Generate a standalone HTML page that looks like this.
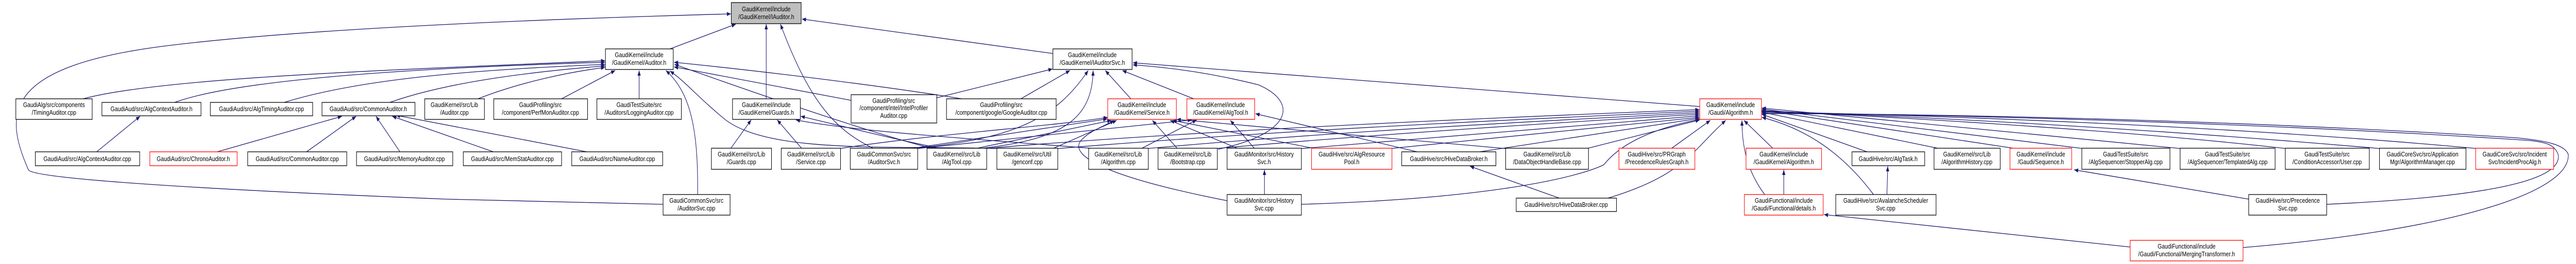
<!DOCTYPE html>
<html><head><meta charset="utf-8"><style>
html,body{margin:0;padding:0;background:#fff;width:100%;height:100%;overflow:hidden;}
svg{display:block;position:absolute;left:0;top:0;width:100vw;height:100vh;}
text{font-family:"Liberation Sans",sans-serif;font-size:13.3px;fill:#000;text-anchor:middle;}
.b{fill:#fff;stroke:#000;stroke-width:1.3;}
.r{fill:#fff;stroke:#ff0000;stroke-width:1.3;}
.g{fill:#bfbfbf;stroke:#000;stroke-width:1.3;}
.e{fill:none;stroke:#191970;stroke-width:1.3;marker-end:url(#a);}
</style></head><body>
<svg viewBox="0 0 6344 513" preserveAspectRatio="none" xmlns="http://www.w3.org/2000/svg">
<defs><marker id="a" markerUnits="userSpaceOnUse" markerWidth="11" markerHeight="8" refX="10" refY="4" orient="auto"><path d="M0,0 L10,4 L0,8 z" fill="#191970"/></marker></defs>

<path class="e" d="M1650,95 L1812,47"/>
<path class="e" d="M1887,192 L1887,47"/>
<path class="e" d="M2150,288 C2050,250 1990,190 1922,47"/>
<path class="e" d="M2593,104 L1975,37"/>
<path class="e" d="M1633,397 L1100,387 C400,365 80,345 70,330 C8,220 10,130 400,90 C700,60 1200,40 1800,27"/>
<path class="e" d="M205,192 C400,150 1000,135 1490,118"/>
<path class="e" d="M430,199 C600,150 1100,130 1490,121"/>
<path class="e" d="M700,199 C900,150 1200,135 1490,125"/>
<path class="e" d="M960,199 C1100,160 1300,140 1490,128"/>
<path class="e" d="M1177,192 C1280,160 1400,140 1490,131"/>
<path class="e" d="M1383,192 L1515,137"/>
<path class="e" d="M1574,192 L1574,137"/>
<path class="e" d="M1718,378 C1720,250 1700,180 1640,137"/>
<path class="e" d="M2096,195 L1660,130"/>
<path class="e" d="M2368,192 C2200,170 1900,140 1660,121"/>
<path class="e" d="M2300,289 C2200,270 2000,220 1661,125"/>
<path class="e" d="M2470,289 C2200,282 1900,300 1787,233 C1720,190 1690,160 1650,138"/>
<path class="e" d="M1800,288 L1850,233"/>
<path class="e" d="M1974,288 L1914,233"/>
<path class="e" d="M2320,289 C2200,270 2100,250 1972,226"/>
<path class="e" d="M2700,289 C2400,270 2100,255 1960,233"/>
<path class="e" d="M535,295 L842,226"/>
<path class="e" d="M755,295 L877,226"/>
<path class="e" d="M985,295 L926,226"/>
<path class="e" d="M1215,295 L966,226"/>
<path class="e" d="M1445,295 L975,224"/>
<path class="e" d="M238,295 L345,226"/>
<path class="e" d="M2307,190 L2592,134"/>
<path class="e" d="M2514,192 L2635,137"/>
<path class="e" d="M2250,288 C2500,270 2600,230 2680,137"/>
<path class="e" d="M2420,288 C2620,270 2690,230 2692,137"/>
<path class="e" d="M2785,192 L2722,137"/>
<path class="e" d="M2940,192 L2764,137"/>
<path class="e" d="M3000,290 C3180,260 3200,200 3100,165 C3000,145 2900,132 2790,126"/>
<path class="e" d="M4186,207 L2790,122"/>
<path class="e" d="M2240,289 L2727,231"/>
<path class="e" d="M2400,289 L2737,234"/>
<path class="e" d="M2592,289 L2750,234"/>
<path class="e" d="M2065,289 C2300,260 2600,245 2728,228"/>
<path class="e" d="M2900,289 L2838,234"/>
<path class="e" d="M3050,289 L2882,234"/>
<path class="e" d="M3240,289 L2888,234"/>
<path class="e" d="M3713,289 L2898,232"/>
<path class="e" d="M3022,390 C2700,340 2640,300 2660,275 C2680,255 2720,245 2744,234"/>
<path class="e" d="M2255,289 L2935,233"/>
<path class="e" d="M2810,289 L2947,233"/>
<path class="e" d="M3090,289 L3030,234"/>
<path class="e" d="M3490,295 L3092,221"/>
<path class="e" d="M2420,289 C3000,250 3800,225 4185,213"/>
<path class="e" d="M2600,289 C3200,250 3800,230 4185,216"/>
<path class="e" d="M2820,289 C3300,255 3800,235 4185,219"/>
<path class="e" d="M2990,289 C3400,260 3900,235 4185,222"/>
<path class="e" d="M3200,289 C3600,260 3950,240 4185,225"/>
<path class="e" d="M3420,289 C3700,265 3950,245 4185,228"/>
<path class="e" d="M3644,295 L4185,230"/>
<path class="e" d="M3906,289 L4186,233"/>
<path class="e" d="M4117,288 L4212,234"/>
<path class="e" d="M3205,397 C3700,385 3900,340 3950,320 C4000,270 4100,245 4186,232"/>
<path class="e" d="M3960,385 C4150,340 4170,290 4250,234"/>
<path class="e" d="M4367,289 L4295,234"/>
<path class="e" d="M4346,378 C4300,330 4290,280 4290,234"/>
<path class="e" d="M4598,295 L4339,222"/>
<path class="e" d="M4614,378 C4540,300 4450,250 4339,228"/>
<path class="e" d="M4772,288 L4339,218"/>
<path class="e" d="M4958,288 L4339,214"/>
<path class="e" d="M5134,289 L4339,212"/>
<path class="e" d="M5375,289 L4339,210"/>
<path class="e" d="M5634,289 C5200,250 4600,225 4339,215"/>
<path class="e" d="M5866,289 C5300,250 4700,225 4339,216"/>
<path class="e" d="M6105,289 C5500,245 4800,225 4339,217"/>
<path class="e" d="M5730,397 C6200,380 6310,340 6300,300 C6290,280 6270,277 6230,273 C5500,235 4700,222 4339,219"/>
<path class="e" d="M5524,481 C6000,450 6330,380 6325,300 C6315,278 6250,272 6200,268 C5500,232 4700,220 4339,221"/>
<path class="e" d="M3840,385 L3620,323"/>
<path class="e" d="M3114,378 L3114,330"/>
<path class="e" d="M4393,378 L4393,330"/>
<path class="e" d="M4647,378 L4649,323"/>
<path class="e" d="M5538,387 L5108,330"/>
<path class="e" d="M5246,480 L4492,417"/>

<rect class="g" x="1801" y="5" width="172" height="41"/>
<text x="1887" y="22">GaudiKernel/include</text><text x="1887" y="37">/GaudiKernel/IAuditor.h</text>
<rect class="b" x="1491" y="95" width="167" height="40"/>
<text x="1574" y="111">GaudiKernel/include</text><text x="1574" y="126">/GaudiKernel/Auditor.h</text>
<rect class="b" x="2593" y="95" width="195" height="40"/>
<text x="2690" y="111">GaudiKernel/include</text><text x="2690" y="126">/GaudiKernel/IAuditorSvc.h</text>

<rect class="b" x="39" y="192" width="188" height="40"/>
<text x="133" y="208">GaudiAlg/src/components</text><text x="133" y="223">/TimingAuditor.cpp</text>
<rect class="b" x="251" y="199" width="244" height="26"/><text x="373" y="216">GaudiAud/src/AlgContextAuditor.h</text>
<rect class="b" x="518" y="199" width="252" height="26"/><text x="644" y="216">GaudiAud/src/AlgTimingAuditor.cpp</text>
<rect class="b" x="793" y="199" width="229" height="26"/><text x="907" y="216">GaudiAud/src/CommonAuditor.h</text>
<rect class="b" x="1046" y="192" width="147" height="40"/>
<text x="1119" y="208">GaudiKernel/src/Lib</text><text x="1119" y="223">/Auditor.cpp</text>
<rect class="b" x="1216" y="192" width="231" height="40"/>
<text x="1331" y="208">GaudiProfiling/src</text><text x="1331" y="223">/component/PerfMonAuditor.cpp</text>
<rect class="b" x="1470" y="192" width="208" height="40"/>
<text x="1574" y="208">GaudiTestSuite/src</text><text x="1574" y="223">/Auditors/LoggingAuditor.cpp</text>
<rect class="b" x="1804" y="192" width="167" height="40"/>
<text x="1887" y="208">GaudiKernel/include</text><text x="1887" y="223">/GaudiKernel/Guards.h</text>
<rect class="b" x="2096" y="184" width="211" height="55"/>
<text x="2201" y="200">GaudiProfiling/src</text><text x="2201" y="214">/component/intel/IntelProfiler</text><text x="2201" y="229">Auditor.cpp</text>
<rect class="b" x="2331" y="192" width="270" height="40"/>
<text x="2466" y="208">GaudiProfiling/src</text><text x="2466" y="223">/component/google/GoogleAuditor.cpp</text>
<rect class="r" x="2728" y="192" width="169" height="40"/>
<text x="2812" y="208">GaudiKernel/include</text><text x="2812" y="223">/GaudiKernel/Service.h</text>
<rect class="r" x="2923" y="192" width="167" height="40"/>
<text x="3006" y="208">GaudiKernel/include</text><text x="3006" y="223">/GaudiKernel/AlgTool.h</text>
<rect class="r" x="4186" y="192" width="152" height="40"/>
<text x="4262" y="208">GaudiKernel/include</text><text x="4262" y="223">/Gaudi/Algorithm.h</text>

<rect class="b" x="87" y="295" width="257" height="27"/><text x="215" y="313">GaudiAud/src/AlgContextAuditor.cpp</text>
<rect class="r" x="369" y="295" width="215" height="27"/><text x="476" y="313">GaudiAud/src/ChronoAuditor.h</text>
<rect class="b" x="610" y="295" width="244" height="27"/><text x="732" y="313">GaudiAud/src/CommonAuditor.cpp</text>
<rect class="b" x="878" y="295" width="237" height="27"/><text x="996" y="313">GaudiAud/src/MemoryAuditor.cpp</text>
<rect class="b" x="1141" y="295" width="242" height="27"/><text x="1262" y="313">GaudiAud/src/MemStatAuditor.cpp</text>
<rect class="b" x="1408" y="295" width="224" height="27"/><text x="1520" y="313">GaudiAud/src/NameAuditor.cpp</text>
<rect class="b" x="3452" y="295" width="232" height="27"/><text x="3568" y="313">GaudiHive/src/HiveDataBroker.h</text>
<rect class="b" x="4561" y="295" width="179" height="27"/><text x="4650" y="313">GaudiHive/src/AlgTask.h</text>

<rect class="b" x="1752" y="288" width="148" height="41"/><text x="1826" y="304">GaudiKernel/src/Lib</text><text x="1826" y="319">/Guards.cpp</text>
<rect class="b" x="1924" y="288" width="146" height="41"/><text x="1997" y="304">GaudiKernel/src/Lib</text><text x="1997" y="319">/Service.cpp</text>
<rect class="b" x="2094" y="288" width="166" height="41"/><text x="2177" y="304">GaudiCommonSvc/src</text><text x="2177" y="319">/AuditorSvc.h</text>
<rect class="b" x="2283" y="288" width="147" height="41"/><text x="2356" y="304">GaudiKernel/src/Lib</text><text x="2356" y="319">/AlgTool.cpp</text>
<rect class="b" x="2455" y="288" width="150" height="41"/><text x="2530" y="304">GaudiKernel/src/Util</text><text x="2530" y="319">/genconf.cpp</text>
<rect class="b" x="2681" y="288" width="147" height="41"/><text x="2754" y="304">GaudiKernel/src/Lib</text><text x="2754" y="319">/Algorithm.cpp</text>
<rect class="b" x="2852" y="288" width="146" height="41"/><text x="2925" y="304">GaudiKernel/src/Lib</text><text x="2925" y="319">/Bootstrap.cpp</text>
<rect class="b" x="3022" y="288" width="183" height="41"/><text x="3113" y="304">GaudiMonitor/src/History</text><text x="3113" y="319">Svc.h</text>
<rect class="r" x="3230" y="288" width="198" height="41"/><text x="3329" y="304">GaudiHive/src/AlgResource</text><text x="3329" y="319">Pool.h</text>
<rect class="b" x="3708" y="288" width="204" height="41"/><text x="3810" y="304">GaudiKernel/src/Lib</text><text x="3810" y="319">/DataObjectHandleBase.cpp</text>
<rect class="r" x="3987" y="288" width="187" height="41"/><text x="4080" y="304">GaudiHive/src/PRGraph</text><text x="4080" y="319">/PrecedenceRulesGraph.h</text>
<rect class="r" x="4300" y="288" width="186" height="41"/><text x="4393" y="304">GaudiKernel/include</text><text x="4393" y="319">/GaudiKernel/Algorithm.h</text>
<rect class="b" x="4763" y="288" width="163" height="41"/><text x="4844" y="304">GaudiKernel/src/Lib</text><text x="4844" y="319">/AlgorithmHistory.cpp</text>
<rect class="r" x="4950" y="288" width="152" height="41"/><text x="5026" y="304">GaudiKernel/include</text><text x="5026" y="319">/Gaudi/Sequence.h</text>
<rect class="b" x="5127" y="288" width="217" height="41"/><text x="5235" y="304">GaudiTestSuite/src</text><text x="5235" y="319">/AlgSequencer/StopperAlg.cpp</text>
<rect class="b" x="5369" y="288" width="234" height="41"/><text x="5486" y="304">GaudiTestSuite/src</text><text x="5486" y="319">/AlgSequencer/TemplatedAlg.cpp</text>
<rect class="b" x="5628" y="288" width="207" height="41"/><text x="5731" y="304">GaudiTestSuite/src</text><text x="5731" y="319">/ConditionAccessor/User.cpp</text>
<rect class="b" x="5860" y="288" width="213" height="41"/><text x="5966" y="304">GaudiCoreSvc/src/Application</text><text x="5966" y="319">Mgr/AlgorithmManager.cpp</text>
<rect class="r" x="6097" y="288" width="192" height="41"/><text x="6193" y="304">GaudiCoreSvc/src/Incident</text><text x="6193" y="319">Svc/IncidentProcAlg.h</text>

<rect class="b" x="1633" y="378" width="165" height="40"/><text x="1715" y="394">GaudiCommonSvc/src</text><text x="1715" y="409">/AuditorSvc.cpp</text>
<rect class="b" x="3022" y="378" width="183" height="40"/><text x="3113" y="394">GaudiMonitor/src/History</text><text x="3113" y="409">Svc.cpp</text>
<rect class="b" x="3734" y="385" width="247" height="26"/><text x="3857" y="402">GaudiHive/src/HiveDataBroker.cpp</text>
<rect class="r" x="4296" y="378" width="194" height="40"/><text x="4393" y="394">GaudiFunctional/include</text><text x="4393" y="409">/Gaudi/Functional/details.h</text>
<rect class="b" x="4521" y="378" width="247" height="40"/><text x="4644" y="394">GaudiHive/src/AvalancheScheduler</text><text x="4644" y="409">Svc.cpp</text>
<rect class="b" x="5538" y="378" width="192" height="40"/><text x="5634" y="394">GaudiHive/src/Precedence</text><text x="5634" y="409">Svc.cpp</text>
<rect class="r" x="5246" y="467" width="278" height="40"/><text x="5385" y="483">GaudiFunctional/include</text><text x="5385" y="498">/Gaudi/Functional/MergingTransformer.h</text>
</svg>
</body></html>
